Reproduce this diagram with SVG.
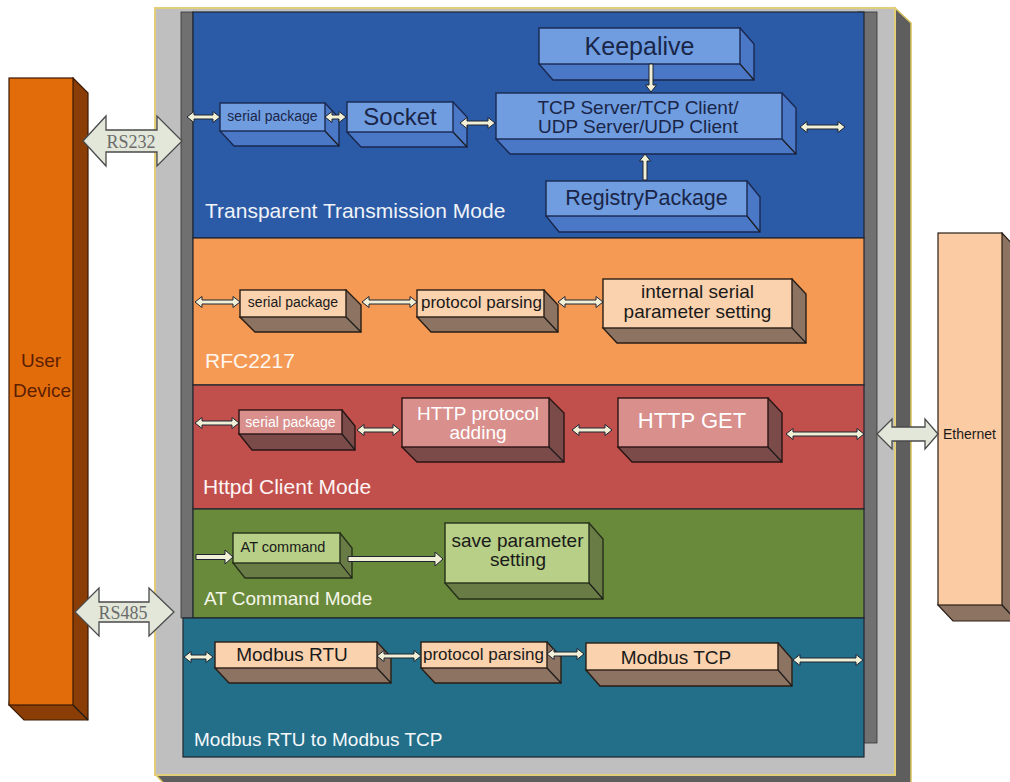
<svg xmlns="http://www.w3.org/2000/svg" width="1010" height="782" viewBox="0 0 1010 782">
<style>
text{font-family:"Liberation Sans",Arial,sans-serif}
.ser{font-family:"Liberation Serif","Times New Roman",serif;fill:#6b6b6b;font-size:18px;text-anchor:middle}
.c{text-anchor:middle}
.pnl{stroke:#1e2530;stroke-width:1.2}
.edge{stroke:#1a1a1a;stroke-width:1.2;fill:none}
.bf{fill:#6f9de0;stroke:#1a2850;stroke-width:1.4}
.bd{fill:#4a77c6;stroke:#1a2850;stroke-width:1.4}
.pf{fill:#fbd2ae;stroke:#2a1e16;stroke-width:1.4}
.pd{fill:#8d7361;stroke:#2a1e16;stroke-width:1.4}
.rf{fill:#d98f8c;stroke:#2a1414;stroke-width:1.4}
.rd{fill:#7a4b49;stroke:#2a1414;stroke-width:1.4}
.gf{fill:#b7cf86;stroke:#26301a;stroke-width:1.4}
.gd{fill:#6a7c46;stroke:#26301a;stroke-width:1.4}
.sa{fill:#f1efd6;stroke:#1c2433;stroke-width:1}
.ba{fill:#e2e7da;stroke:#4a4a4a;stroke-width:1.3}
.dk{fill:#1a2548}
.wt{fill:#ffffff}
.title{font-size:21px;fill:#f0f3f8}
</style>

<!-- outer frame -->
<g id="frame">
<polygon points="895,8 911,23 911,790 170,790 156,775 895,775" fill="#5e5e5e" stroke="#d8c25a" stroke-width="1.5"/>
<rect x="155" y="8" width="740" height="767" fill="#bfbfbf" stroke="#e2cd78" stroke-width="2"/>
<rect x="181" y="12" width="12" height="606" fill="#707070" stroke="#333" stroke-width="0.8"/>
<rect x="858" y="12" width="19" height="731" fill="#707070" stroke="#333" stroke-width="0.8"/>
</g>

<!-- panels -->
<g id="panel-transparent">
<rect class="pnl" x="193" y="12" width="671" height="226" fill="#2b5ba6"/>
<text class="title" x="205" y="218">Transparent Transmission Mode</text>
</g>
<g id="panel-rfc2217">
<rect class="pnl" x="193" y="238" width="671" height="147" fill="#f59a55"/>
<text class="title" x="205" y="368" style="fill:#fff6ee">RFC2217</text>
</g>
<g id="panel-httpd">
<rect class="pnl" x="193" y="385" width="671" height="124" fill="#c1504c"/>
<text class="title" x="203" y="494" style="fill:#fff4f4">Httpd Client Mode</text>
</g>
<g id="panel-at">
<rect class="pnl" x="193" y="509" width="671" height="109" fill="#6a8a3b"/>
<text class="title" x="204" y="605" style="font-size:19px;fill:#f4f6ea">AT Command Mode</text>
</g>
<g id="panel-modbus">
<rect class="pnl" x="183" y="618" width="681" height="139" fill="#236e88"/>
<text class="title" x="194" y="746" style="font-size:19px;fill:#f4f8fa">Modbus RTU to Modbus TCP</text>
</g>

<!-- user device -->
<g id="user-device">
<polygon points="73,78 88,93 88,720 24,720 9,705" fill="#8a3e05" stroke="#3a1a05" stroke-width="1.2"/>
<line class="edge" x1="73" y1="705" x2="88" y2="720"/>
<rect x="9" y="78" width="64" height="627" fill="#e36c0a" stroke="#3a1a05" stroke-width="1.2"/>
<text class="c" x="41" y="367" font-size="19" fill="#5c1f00">User</text>
<text class="c" x="42" y="397" font-size="19" fill="#5c1f00">Device</text>
</g>

<!-- ethernet -->
<g id="ethernet">
<polygon points="1002,233 1017,249 1017,621 953,621 938,605" fill="#8d7361" stroke="#2a1e16" stroke-width="1.2"/>
<line class="edge" x1="1002" y1="605" x2="1017" y2="621"/>
<rect x="938" y="233" width="64" height="372" fill="#fbcba4" stroke="#2a1e16" stroke-width="1.2"/>
<text x="943" y="439" font-size="14" fill="#1a1a1a">Ethernet</text>
</g>

<!-- Transparent mode nodes -->
<g id="t-serial">
<polygon class="bd" points="325,103 339,118 339,146 234,146 220,131"/>
<line class="edge" x1="325" y1="131" x2="339" y2="146"/>
<rect class="bf" x="220" y="103" width="105" height="28"/>
<text class="c dk" x="272.5" y="121" font-size="14">serial package</text>
</g>
<g id="t-socket">
<polygon class="bd" points="453,102 467,117 467,147 361,147 347,132"/>
<line class="edge" x1="453" y1="132" x2="467" y2="147"/>
<rect class="bf" x="347" y="102" width="106" height="30"/>
<text class="c dk" x="400" y="125" font-size="24">Socket</text>
</g>
<g id="t-tcp">
<polygon class="bd" points="782,93 796,108 796,154 510,154 496,139"/>
<line class="edge" x1="782" y1="139" x2="796" y2="154"/>
<rect class="bf" x="496" y="93" width="286" height="46"/>
<text class="c dk" x="638" y="114" font-size="19">TCP Server/TCP Client/</text>
<text class="c dk" x="638" y="133" font-size="19">UDP Server/UDP Client</text>
</g>
<g id="t-keepalive">
<polygon class="bd" points="740,28 754,44 754,80 553,80 539,64"/>
<line class="edge" x1="740" y1="64" x2="754" y2="80"/>
<rect class="bf" x="539" y="28" width="201" height="36"/>
<text class="c dk" x="639.5" y="55" font-size="25">Keepalive</text>
</g>
<g id="t-registry">
<polygon class="bd" points="747,181 760,197 760,232 559,232 546,216"/>
<line class="edge" x1="747" y1="216" x2="760" y2="232"/>
<rect class="bf" x="546" y="181" width="201" height="35"/>
<text class="c dk" x="646.5" y="205" font-size="21.5">RegistryPackage</text>
</g>

<!-- RFC2217 nodes -->
<g id="r-serial">
<polygon class="pd" points="346,290 361,305 361,332 255,332 240,317"/>
<line class="edge" x1="346" y1="317" x2="361" y2="332"/>
<rect class="pf" x="240" y="290" width="106" height="27"/>
<text class="c" x="293" y="307" font-size="14" fill="#1a1a1a">serial package</text>
</g>
<g id="r-parsing">
<polygon class="pd" points="544,290 558,305 558,332 431,332 417,317"/>
<line class="edge" x1="544" y1="317" x2="558" y2="332"/>
<rect class="pf" x="417" y="290" width="127" height="27"/>
<text x="421" y="308" font-size="17" fill="#1a1a1a">protocol parsing</text>
</g>
<g id="r-internal">
<polygon class="pd" points="792,279 806,294 806,343 617,343 603,328"/>
<line class="edge" x1="792" y1="328" x2="806" y2="343"/>
<rect class="pf" x="603" y="279" width="189" height="49"/>
<text class="c" x="697.5" y="298" font-size="19" fill="#1a1a1a">internal serial</text>
<text class="c" x="697.5" y="318" font-size="19" fill="#1a1a1a">parameter setting</text>
</g>

<!-- Httpd nodes -->
<g id="h-serial">
<polygon class="rd" points="342,410 355,426 355,450 252,450 239,434"/>
<line class="edge" x1="342" y1="434" x2="355" y2="450"/>
<rect class="rf" x="239" y="410" width="103" height="24"/>
<text class="c wt" x="290.5" y="427" font-size="14">serial package</text>
</g>
<g id="h-protocol">
<polygon class="rd" points="549,398 564,413 564,462 417,462 402,447"/>
<line class="edge" x1="549" y1="447" x2="564" y2="462"/>
<rect class="rf" x="402" y="398" width="147" height="49"/>
<text class="c wt" x="478" y="420" font-size="19">HTTP protocol</text>
<text class="c wt" x="478" y="439" font-size="19">adding</text>
</g>
<g id="h-get">
<polygon class="rd" points="768,398 782,413 782,462 632,462 618,447"/>
<line class="edge" x1="768" y1="447" x2="782" y2="462"/>
<rect class="rf" x="618" y="398" width="150" height="49"/>
<text class="c wt" x="692" y="428" font-size="22">HTTP GET</text>
</g>

<!-- AT nodes -->
<g id="a-command">
<polygon class="gd" points="340,533 352,548 352,578 245,578 233,563"/>
<line class="edge" x1="340" y1="563" x2="352" y2="578"/>
<rect class="gf" x="233" y="533" width="107" height="30"/>
<text class="c" x="283" y="552" font-size="14.5" fill="#1a1a1a">AT command</text>
</g>
<g id="a-save">
<polygon class="gd" points="589,523 603,539 603,599 459,599 445,583"/>
<line class="edge" x1="589" y1="583" x2="603" y2="599"/>
<rect class="gf" x="445" y="523" width="144" height="60"/>
<text class="c" x="517.5" y="547" font-size="19" fill="#1a1a1a">save parameter</text>
<text class="c" x="518" y="566" font-size="19" fill="#1a1a1a">setting</text>
</g>

<!-- Modbus nodes -->
<g id="m-rtu">
<polygon class="pd" points="377,642 391,657 391,683 229,683 215,668"/>
<line class="edge" x1="377" y1="668" x2="391" y2="683"/>
<rect class="pf" x="215" y="642" width="162" height="26"/>
<text class="c" x="292" y="661" font-size="19" fill="#1a1a1a">Modbus RTU</text>
</g>
<g id="m-parsing">
<polygon class="pd" points="547,642 561,657 561,683 435,683 421,668"/>
<line class="edge" x1="547" y1="668" x2="561" y2="683"/>
<rect class="pf" x="421" y="642" width="126" height="26"/>
<text x="423" y="660" font-size="17" fill="#1a1a1a">protocol parsing</text>
</g>
<g id="m-tcp">
<polygon class="pd" points="778,643 792,659 792,686 600,686 586,670"/>
<line class="edge" x1="778" y1="670" x2="792" y2="686"/>
<rect class="pf" x="586" y="643" width="192" height="27"/>
<text class="c" x="676" y="664" font-size="19" fill="#1a1a1a">Modbus TCP</text>
</g>

<!-- connectors -->
<g id="connectors">
<polygon class="ba" points="83,141 106,116 106,130 157,130 157,116 182,141 157,166 157,152 106,152 106,166"/>
<text class="ser" x="131" y="148">RS232</text>
<polygon class="ba" points="75,612 99,588 99,602 149,602 149,588 174,612 149,636 149,622 99,622 99,636"/>
<text class="ser" x="123" y="619">RS485</text>
<polygon class="ba" points="877,434 892,419 892,427 925,427 925,419 938,434 925,449 925,441 892,441 892,449"/>

<polygon class="sa" points="187,117 194,111.5 194,115 213,115 213,111.5 220,117 213,122.5 213,119 194,119 194,122.5"/>
<polygon class="sa" points="325,117 332,111.5 332,115 339,115 339,111.5 346,117 339,122.5 339,119 332,119 332,122.5"/>
<polygon class="sa" points="460,123 467,117.5 467,121 488,121 488,117.5 495,123 488,128.5 488,125 467,125 467,128.5"/>
<polygon class="sa" points="800,127 807,121.5 807,125 838,125 838,121.5 845,127 838,132.5 838,129 807,129 807,132.5"/>
<polygon class="sa" points="649,64 653,64 653,85 656.5,85 651,92 645.5,85 649,85"/>
<polygon class="sa" points="643,180 647,180 647,161 650.5,161 645,154 639.5,161 643,161"/>

<polygon class="sa" points="195,302 202,296.5 202,300 233,300 233,296.5 240,302 233,307.5 233,304 202,304 202,307.5"/>
<polygon class="sa" points="362,302 369,296.5 369,300 410,300 410,296.5 417,302 410,307.5 410,304 369,304 369,307.5"/>
<polygon class="sa" points="558,302 565,296.5 565,300 596,300 596,296.5 603,302 596,307.5 596,304 565,304 565,307.5"/>

<polygon class="sa" points="195,423 202,417.5 202,421 232,421 232,417.5 239,423 232,428.5 232,425 202,425 202,428.5"/>
<polygon class="sa" points="357,430 364,424.5 364,428 393,428 393,424.5 400,430 393,435.5 393,432 364,432 364,435.5"/>
<polygon class="sa" points="572,430 579,424.5 579,428 605,428 605,424.5 612,430 605,435.5 605,432 579,432 579,435.5"/>
<polygon class="sa" points="786,434 793,428.5 793,432 857,432 857,428.5 864,434 857,439.5 857,436 793,436 793,439.5"/>

<polygon class="sa" points="196,554.5 225,554.5 225,550 233,557 225,564 225,559.5 196,559.5"/>
<polygon class="sa" points="348,556.5 435,556.5 435,552 443,559 435,566 435,561.5 348,561.5"/>

<polygon class="sa" points="184,657 191,651.5 191,655 206,655 206,651.5 213,657 206,662.5 206,659 191,659 191,662.5"/>
<polygon class="sa" points="377,656 384,650.5 384,654 414,654 414,650.5 421,656 414,661.5 414,658 384,658 384,661.5"/>
<polygon class="sa" points="547,654 554,648.5 554,652 577,652 577,648.5 584,654 577,659.5 577,656 554,656 554,659.5"/>
<polygon class="sa" points="793,660 800,654.5 800,658 856,658 856,654.5 863,660 856,665.5 856,662 800,662 800,665.5"/>
</g>
</svg>
